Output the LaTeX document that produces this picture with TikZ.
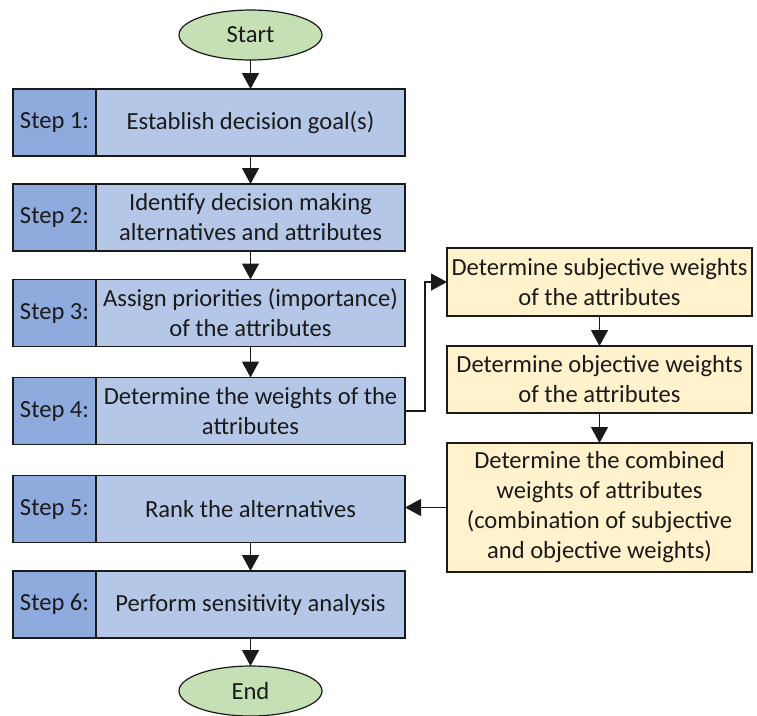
\documentclass[tikz,border=0pt]{standalone}
\usepackage{fontspec}
\setmainfont{Carlito}
\usetikzlibrary{arrows.meta,positioning,shapes.geometric}
\definecolor{stepblue}{HTML}{8FAADC}
\definecolor{boxblue}{HTML}{B4C7E7}
\definecolor{boxyellow}{HTML}{FFF2CC}
\definecolor{termgreen}{HTML}{C5E0B4}
\definecolor{inkline}{HTML}{1A1A1A}

\begin{document}
\begin{tikzpicture}[x=1pt,y=-1pt]
\tikzset{every node/.style={font=\fontsize{24.6}{30}\selectfont, text=inkline, draw=inkline, line width=1.2pt, outer sep=0pt, inner sep=0pt, align=center}}
\tikzset{terminal/.style={ellipse, fill=termgreen, minimum width=143, minimum height=50}}
\tikzset{steplabel/.style={fill=stepblue, minimum width=83, minimum height=67}}
\tikzset{stepbox/.style={fill=boxblue, minimum width=309, minimum height=67}}
\tikzset{weightbox/.style={fill=boxyellow, minimum width=305}}
\tikzset{flow/.style={draw=inkline, line width=1.2pt, -{Triangle[length=16pt,width=17pt]}}}

\useasboundingbox (0,0) rectangle (757,715);

\node[terminal] (start) at (250.5,35) {Start};

\node[steplabel] (l1) at (54.5,122.5) {Step 1:};
\node[stepbox, right=0pt of l1] (s1) {Establish decision goal(s)};
\node[steplabel] (l2) at (54.5,217.5) {Step 2:};
\node[stepbox, right=0pt of l2] (s2) {Identify decision making\\alternatives and attributes};
\node[steplabel] (l3) at (54.5,313) {Step 3:};
\node[stepbox, right=0pt of l3] (s3) {Assign priorities (importance)\\of the attributes};
\node[steplabel] (l4) at (54.5,411) {Step 4:};
\node[stepbox, right=0pt of l4] (s4) {Determine the weights of the\\attributes};
\node[steplabel] (l5) at (54.5,509) {Step 5:};
\node[stepbox, right=0pt of l5] (s5) {Rank the alternatives};
\node[steplabel] (l6) at (54.5,604.5) {Step 6:};
\node[stepbox, right=0pt of l6] (s6) {Perform sensitivity analysis};

\node[terminal] (end) at (250.5,691) {End};

\node[weightbox, minimum height=68] (w1) at (599.5,282) {Determine subjective weights\\of the attributes};
\node[weightbox, minimum height=67] (w2) at (599.5,379.5) {Determine objective weights\\of the attributes};
\node[weightbox, minimum height=129] (w3) at (599.5,507.5) {Determine the combined\\weights of attributes\\(combination of subjective\\and objective weights)};

% main flow
\draw[flow] (start) -- (s1);
\draw[flow] (s1) -- (s2);
\draw[flow] (s2) -- (s3);
\draw[flow] (s3) -- (s4);
\draw[flow] (s5) -- (s6);
\draw[flow] (s6) -- (end);

% weights branch
\draw[flow] (s4.east) -- ++(20,0) |- (w1.west);
\draw[flow] (w1) -- (w2);
\draw[flow] (w2) -- (w3);
\draw[flow] (w3.west) -- (w3.west -| s5.east);

\end{tikzpicture}
\end{document}
